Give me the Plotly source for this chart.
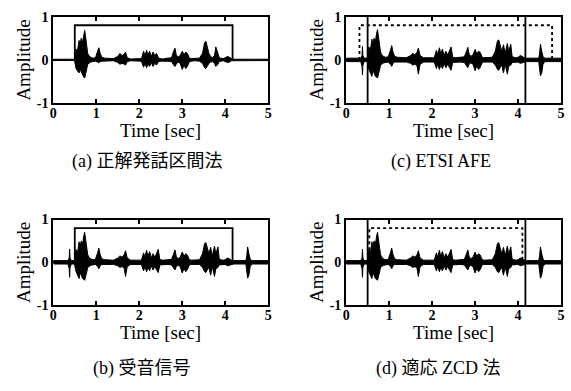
import plotly.graph_objects as go

# ---- data ----
time_s = [0, 0.34, 0.37, 0.38, 0.39, 0.42, 0.49, 0.5, 0.53, 0.56, 0.6, 0.62, 0.65, 0.68, 0.71, 0.73, 0.75, 0.78, 0.8, 0.83, 0.87, 0.92, 0.98,
          1.03, 1.06, 1.09, 1.13, 1.2, 1.3, 1.4, 1.5, 1.55, 1.6, 1.65, 1.68, 1.72, 1.8, 1.95,
          2.05, 2.1, 2.13, 2.17, 2.2, 2.24, 2.28, 2.32, 2.36, 2.4, 2.44, 2.48, 2.55, 2.65, 2.75, 2.8, 2.83, 2.86, 2.9, 2.95,
          3.0, 3.04, 3.08, 3.12, 3.16, 3.2, 3.3, 3.4, 3.47, 3.52, 3.55, 3.58, 3.62, 3.66, 3.7, 3.75, 3.78, 3.83, 3.86, 3.9, 3.95,
          4.0, 4.05, 4.1, 4.14, 4.2, 4.48, 4.5, 4.52, 4.55, 4.58, 4.62, 5.0]

clean_upper = [0.015, 0.015, 0.015, 0.015, 0.015, 0.015, 0.015, 0.05, 0.25, 0.2, 0.45, 0.35, 0.5, 0.4, 0.6, 0.68, 0.55, 0.3, 0.15, 0.1, 0.06, 0.04, 0.05,
               0.2, 0.28, 0.15, 0.06, 0.04, 0.03, 0.03, 0.08, 0.15, 0.1, 0.13, 0.18, 0.05, 0.02, 0.02,
               0.03, 0.2, 0.1, 0.22, 0.12, 0.2, 0.08, 0.18, 0.1, 0.15, 0.06, 0.03, 0.02, 0.04, 0.05, 0.2, 0.27, 0.12, 0.06, 0.1,
               0.2, 0.12, 0.18, 0.15, 0.05, 0.03, 0.03, 0.04, 0.15, 0.4, 0.43, 0.3, 0.15, 0.08, 0.05, 0.1, 0.3, 0.15, 0.05, 0.04, 0.03,
               0.05, 0.08, 0.06, 0.03, 0.015, 0.015, 0.015, 0.015, 0.015, 0.015, 0.015, 0.015]
clean_lower = [-0.015, -0.015, -0.015, -0.015, -0.015, -0.015, -0.015, -0.05, -0.2, -0.25, -0.3, -0.2, -0.28, -0.35, -0.4, -0.42, -0.38, -0.2, -0.1, -0.08, -0.05, -0.04, -0.03,
               -0.05, -0.07, -0.04, -0.03, -0.03, -0.02, -0.02, -0.06, -0.1, -0.08, -0.1, -0.12, -0.04, -0.02, -0.02,
               -0.03, -0.17, -0.08, -0.18, -0.1, -0.15, -0.06, -0.15, -0.08, -0.12, -0.05, -0.03, -0.02, -0.03, -0.04, -0.12, -0.15, -0.1, -0.05, -0.08,
               -0.22, -0.12, -0.2, -0.15, -0.05, -0.03, -0.02, -0.03, -0.08, -0.18, -0.2, -0.15, -0.08, -0.05, -0.04, -0.08, -0.15, -0.1, -0.04, -0.03, -0.02,
               -0.04, -0.06, -0.05, -0.02, -0.015, -0.015, -0.015, -0.015, -0.015, -0.015, -0.015, -0.015]

noisy_upper = [0.04, 0.04, 0.1, 0.31, 0.1, 0.04, 0.04, 0.08, 0.3, 0.2, 0.48, 0.35, 0.5, 0.42, 0.62, 0.7, 0.55, 0.3, 0.18, 0.12, 0.08, 0.06, 0.07,
               0.22, 0.33, 0.18, 0.08, 0.06, 0.05, 0.05, 0.1, 0.15, 0.12, 0.18, 0.27, 0.1, 0.05, 0.05,
               0.05, 0.22, 0.12, 0.28, 0.14, 0.25, 0.1, 0.2, 0.12, 0.2, 0.3, 0.06, 0.05, 0.06, 0.07, 0.2, 0.29, 0.14, 0.08, 0.12,
               0.24, 0.14, 0.2, 0.17, 0.07, 0.05, 0.05, 0.06, 0.2, 0.44, 0.46, 0.32, 0.2, 0.35, 0.15, 0.38, 0.2, 0.36, 0.08, 0.06, 0.05,
               0.06, 0.1, 0.08, 0.05, 0.04, 0.04, 0.15, 0.36, 0.2, 0.08, 0.04, 0.04]
noisy_lower = [-0.04, -0.04, -0.15, -0.35, -0.12, -0.04, -0.04, -0.08, -0.22, -0.3, -0.38, -0.25, -0.3, -0.38, -0.4, -0.42, -0.36, -0.22, -0.12, -0.1, -0.07, -0.06, -0.05,
               -0.1, -0.15, -0.08, -0.05, -0.05, -0.05, -0.05, -0.08, -0.12, -0.1, -0.14, -0.33, -0.1, -0.05, -0.05,
               -0.05, -0.2, -0.1, -0.22, -0.12, -0.2, -0.08, -0.18, -0.1, -0.15, -0.24, -0.06, -0.05, -0.05, -0.06, -0.14, -0.18, -0.1, -0.07, -0.1,
               -0.25, -0.14, -0.22, -0.17, -0.07, -0.05, -0.05, -0.05, -0.12, -0.22, -0.24, -0.18, -0.12, -0.3, -0.1, -0.33, -0.15, -0.12, -0.06, -0.05, -0.05,
               -0.05, -0.08, -0.07, -0.05, -0.04, -0.04, -0.2, -0.37, -0.3, -0.1, -0.04, -0.04]

true_interval = [0.5, 4.17]
etsi_interval = [0.31, 4.79]
zcd_interval = [0.54, 4.1]
marker_height = 0.8

x_ticks = [0, 1, 2, 3, 4, 5]
y_ticks = [-1, 0, 1]
y_tick_labels = ["-1", "0", "1"]
captions = ["(a) 正解発話区間法", "(b) 受音信号", "(c) ETSI AFE", "(d) 適応 ZCD 法"]
x_title = "Time [sec]"
y_title = "Amplitude"

# ---- layout geometry (pixels) ----
W, H = 571, 391
px_x = [(50, 268), (50, 268), (347, 565), (347, 565)]
px_y = [(10, 100), (221, 310), (10, 100), (221, 310)]
title_y = [128, 339, 128, 339]
caption_y = [161, 376, 161, 376]
caption_x = [145, 140, 443, 441]
serif = "Liberation Serif, Times New Roman, serif"
cjk = "Liberation Serif, Noto Sans CJK JP, serif"

fig = go.Figure()
signals = [(clean_upper, clean_lower), (noisy_upper, noisy_lower), (noisy_upper, noisy_lower), (noisy_upper, noisy_lower)]

for i in range(4):
    xa = "x" if i == 0 else f"x{i+1}"
    ya = "y" if i == 0 else f"y{i+1}"
    up, lo = signals[i]
    fig.add_trace(go.Scatter(x=time_s + time_s[::-1], y=up + lo[::-1], fill="toself",
                             fillcolor="black", line=dict(color="black", width=1),
                             mode="lines", xaxis=xa, yaxis=ya, showlegend=False, hoverinfo="skip"))
    if i in (0, 1):
        s, e = true_interval
        fig.add_trace(go.Scatter(x=[s, s, e, e], y=[0, marker_height, marker_height, 0], mode="lines",
                                 line=dict(color="black", width=1.8), xaxis=xa, yaxis=ya, showlegend=False))
    else:
        s, e = etsi_interval if i == 2 else zcd_interval
        fig.add_trace(go.Scatter(x=[s, s, e, e], y=[0, marker_height, marker_height, 0], mode="lines",
                                 line=dict(color="black", width=1.8, dash="dot"), xaxis=xa, yaxis=ya, showlegend=False))
        for v in true_interval:
            fig.add_trace(go.Scatter(x=[v, v], y=[-1, 1], mode="lines",
                                     line=dict(color="black", width=1.8), xaxis=xa, yaxis=ya, showlegend=False))

    x0, x1 = px_x[i]
    y0, y1 = px_y[i]
    axis_common = dict(showline=True, linecolor="black", linewidth=2, mirror="ticks",
                       ticks="inside", ticklen=4, tickwidth=1.5, tickcolor="black",
                       showgrid=False, zeroline=False,
                       tickfont=dict(family=serif, size=14, color="black", weight="bold"))
    fig.layout[("xaxis" if i == 0 else f"xaxis{i+1}")] = dict(
        domain=[x0 / W, x1 / W], range=[0, 5], tickvals=x_ticks, anchor=ya, ticklabelstandoff=-4, **axis_common)
    fig.layout[("yaxis" if i == 0 else f"yaxis{i+1}")] = dict(
        domain=[1 - y1 / H, 1 - y0 / H], range=[-1, 1], tickvals=y_ticks, ticktext=y_tick_labels,
        anchor=xa, ticklabelstandoff=0, **axis_common)

    # axis titles & captions
    cx = (x0 + x1) / 2
    fig.add_annotation(text=x_title, x=cx / W, y=1 - title_y[i] / H, xref="paper", yref="paper",
                       xanchor="center", yanchor="middle",
                       showarrow=False, font=dict(family=serif, size=19, color="black"))
    fig.add_annotation(text=y_title, x=(x0 - 30) / W, y=1 - ((y0 + y1) / 2) / H, xref="paper", yref="paper",
                       xanchor="center", yanchor="middle",
                       showarrow=False, textangle=-90, font=dict(family=serif, size=19, color="black"))
    fig.add_annotation(text=captions[i], x=caption_x[i] / W, y=1 - caption_y[i] / H,
                       xref="paper", yref="paper", xanchor="center", yanchor="middle",
                       showarrow=False, font=dict(family=cjk, size=18, color="black"))

fig.update_layout(width=W, height=H, margin=dict(l=0, r=0, t=0, b=0),
                  paper_bgcolor="white", plot_bgcolor="white")
fig.write_html("out.html", config={"displayModeBar": False},
               post_script="document.body.style.margin='0';document.body.style.overflow='hidden';")
